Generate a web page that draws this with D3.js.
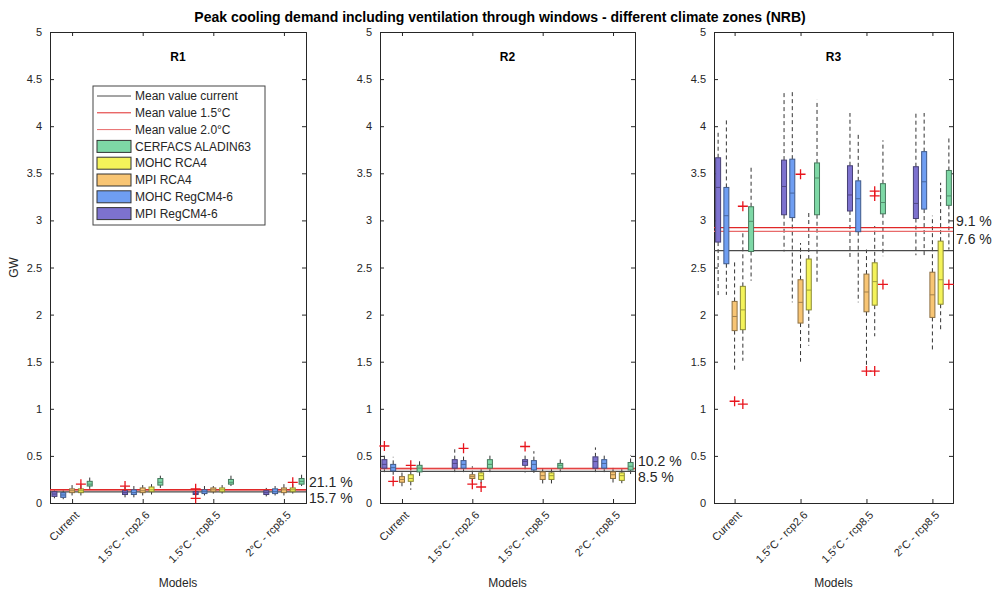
<!DOCTYPE html>
<html>
<head>
<meta charset="utf-8">
<script src="https://cdn.jsdelivr.net/npm/d3@7"></script>
<style>
  body { margin: 0; background: #fff; }
  svg { font-family: "Liberation Sans", Arial, sans-serif; }
</style>
</head>
<body>
<div id="chart"></div>
<script>
// regions / scenarios / models
const panels = ["R1", "R2", "R3"];
const scenarios = ["Current", "1.5°C - rcp2.6", "1.5°C - rcp8.5", "2°C - rcp8.5"];
const models = ["MPI RegCM4-6", "MOHC RegCM4-6", "MPI RCA4", "MOHC RCA4", "CERFACS ALADIN63"];

// box stats per scenario, per model: [whiskerLow, q1, median, q3, whiskerHigh]
const statsR1 = [
  [[0.05, 0.07, 0.095, 0.12, 0.14], [0.04, 0.06, 0.085, 0.11, 0.14], [0.08, 0.11, 0.13, 0.15, 0.19], [0.08, 0.11, 0.13, 0.15, 0.19], [0.15, 0.18, 0.2, 0.23, 0.27]],
  [[0.06, 0.09, 0.11, 0.13, 0.17], [0.06, 0.09, 0.11, 0.14, 0.18], [0.08, 0.11, 0.13, 0.16, 0.19], [0.09, 0.12, 0.14, 0.17, 0.2], [0.16, 0.19, 0.22, 0.26, 0.29]],
  [[0.07, 0.09, 0.1, 0.12, 0.13], [0.08, 0.1, 0.12, 0.14, 0.18], [0.1, 0.12, 0.14, 0.16, 0.18], [0.1, 0.12, 0.14, 0.16, 0.19], [0.18, 0.2, 0.22, 0.25, 0.29]],
  [[0.07, 0.09, 0.11, 0.13, 0.16], [0.08, 0.1, 0.12, 0.15, 0.18], [0.08, 0.11, 0.14, 0.16, 0.2], [0.1, 0.12, 0.14, 0.16, 0.2], [0.18, 0.2, 0.23, 0.26, 0.3]]
];
const statsR2 = [
  [[0.31, 0.37, 0.41, 0.46, 0.53], [0.3, 0.34, 0.375, 0.41, 0.49], [0.17, 0.22, 0.25, 0.28, 0.33], [0.14, 0.23, 0.26, 0.3, 0.35], [0.27, 0.33, 0.37, 0.4, 0.45]],
  [[0.31, 0.37, 0.42, 0.46, 0.57], [0.32, 0.37, 0.41, 0.45, 0.5], [0.21, 0.26, 0.28, 0.3, 0.39], [0.19, 0.25, 0.29, 0.32, 0.37], [0.3, 0.37, 0.41, 0.46, 0.51]],
  [[0.32, 0.4, 0.44, 0.46, 0.53], [0.32, 0.35, 0.41, 0.45, 0.55], [0.19, 0.25, 0.29, 0.33, 0.37], [0.19, 0.25, 0.29, 0.32, 0.37], [0.32, 0.37, 0.4, 0.42, 0.48]],
  [[0.31, 0.37, 0.44, 0.49, 0.59], [0.32, 0.37, 0.42, 0.46, 0.51], [0.19, 0.26, 0.3, 0.33, 0.39], [0.21, 0.24, 0.29, 0.32, 0.37], [0.3, 0.35, 0.39, 0.43, 0.51]]
];
const statsR3 = [
  [[2.18, 2.77, 3.35, 3.665, 3.93], [2.21, 2.54, 3.05, 3.35, 4.07], [1.41, 1.83, 1.98, 2.14, 2.57], [1.51, 1.84, 2.05, 2.3, 2.87], [2.36, 2.67, 2.99, 3.145, 3.59]],
  [[2.67, 3.06, 3.36, 3.64, 4.36], [2.13, 3.03, 3.29, 3.65, 4.38], [1.5, 1.91, 2.13, 2.37, 2.76], [1.67, 2.05, 2.26, 2.59, 3.1], [2.34, 3.06, 3.45, 3.61, 4.28]],
  [[2.59, 3.1, 3.27, 3.58, 4.14], [2.13, 2.88, 3.23, 3.42, 3.91], [1.45, 2.03, 2.24, 2.43, 2.69], [1.77, 2.1, 2.35, 2.55, 2.94], [2.62, 3.07, 3.19, 3.39, 3.85]],
  [[2.63, 3.02, 3.18, 3.57, 4.14], [2.62, 3.12, 3.41, 3.73, 4.14], [1.61, 1.97, 2.21, 2.45, 3.05], [1.83, 2.11, 2.37, 2.78, 3.4], [2.69, 3.16, 3.26, 3.53, 3.87]]
];
const stats = [statsR1, statsR2, statsR3];

// outliers: [scenario index, model index, value]
const outliersR1 = [[0, 3, 0.2], [1, 0, 0.18], [2, 0, 0.15], [2, 0, 0.05], [3, 3, 0.22]];
const outliersR2 = [[0, 0, 0.605], [0, 1, 0.23], [0, 3, 0.4], [1, 1, 0.58], [1, 2, 0.2], [1, 3, 0.17], [2, 0, 0.6]];
const outliersR3 = [[0, 2, 1.08], [0, 3, 3.15], [0, 3, 1.05], [1, 2, 3.49], [2, 2, 1.4], [2, 3, 1.4], [2, 3, 3.31], [2, 3, 3.26], [2, 4, 2.32], [3, 4, 2.32]];
const outliers = [outliersR1, outliersR2, outliersR3];

// mean lines
const meanCurrent = [0.118, 0.335, 2.68];
const mean15 = [0.143, 0.369, 2.924];
const mean20 = [0.137, 0.363, 2.884];
const pctLabels = [["21.1 %", "15.7 %"], ["10.2 %", "8.5 %"], ["9.1 %", "7.6 %"]];
const yTicks = [0, 0.5, 1, 1.5, 2, 2.5, 3, 3.5, 4, 4.5, 5];

const modelColors = ["#7d72cf", "#6f9ef2", "#f8c574", "#f4f35a", "#7ed8a6"];
const legendItems = [
  { label: "Mean value current", type: "line", color: "#4a4a4a" },
  { label: "Mean value 1.5°C", type: "line", color: "#e02828" },
  { label: "Mean value 2.0°C", type: "line", color: "#e86a6a" },
  { label: "CERFACS ALADIN63", type: "box", color: modelColors[4] },
  { label: "MOHC RCA4", type: "box", color: modelColors[3] },
  { label: "MPI RCA4", type: "box", color: modelColors[2] },
  { label: "MOHC RegCM4-6", type: "box", color: modelColors[1] },
  { label: "MPI RegCM4-6", type: "box", color: modelColors[0] }
];

const W = 998, H = 596;
const plotTop = 32, plotBottom = 503;
const lefts = [50, 380, 714], rights = [306, 635, 953];
const axisColor = "#262626";

const svg = d3.select("#chart").append("svg").attr("width", W).attr("height", H);

svg.append("text")
  .attr("x", 500).attr("y", 22)
  .attr("text-anchor", "middle")
  .attr("font-size", 14).attr("font-weight", "bold")
  .text("Peak cooling demand including ventilation through windows - different climate zones (NRB)");

svg.append("text")
  .attr("transform", `translate(18, ${(plotTop + plotBottom) / 2}) rotate(-90)`)
  .attr("text-anchor", "middle")
  .attr("font-size", 12).attr("fill", axisColor)
  .text("GW");

const yScale = d3.scaleLinear().domain([0, 5]).range([plotBottom, plotTop]);

panels.forEach((name, p) => {
  const x0 = lefts[p], x1 = rights[p];
  const xScale = d3.scaleLinear().domain([0.5, 29.5]).range([x0, x1]);
  const pos = (g, m) => xScale(g * 8 + m + 1);
  const g = svg.append("g");

  // y axis left + right (ticks inside)
  const yAxisL = d3.axisLeft(yScale).tickValues(yTicks).tickSize(-4).tickPadding(8)
    .tickFormat(d3.format("~g"));
  const yl = g.append("g").attr("transform", `translate(${x0},0)`).call(yAxisL);
  const yAxisR = d3.axisRight(yScale).tickValues(yTicks).tickSize(-4).tickFormat("");
  const yr = g.append("g").attr("transform", `translate(${x1},0)`).call(yAxisR);

  const tickPos = scenarios.map((s, i) => i * 8 + 3);
  const xAxisB = d3.axisBottom(xScale).tickValues(tickPos).tickSize(-4).tickFormat("");
  const xb = g.append("g").attr("transform", `translate(0,${plotBottom})`).call(xAxisB);
  const xAxisT = d3.axisTop(xScale).tickValues(tickPos).tickSize(-4).tickFormat("");
  const xt = g.append("g").attr("transform", `translate(0,${plotTop})`).call(xAxisT);

  [yl, yr, xb, xt].forEach(a => {
    a.select(".domain").attr("stroke", axisColor);
    a.selectAll(".tick line").attr("stroke", axisColor);
    a.selectAll("text").attr("fill", axisColor).attr("font-size", 11)
      .attr("font-family", "Liberation Sans, Arial, sans-serif");
  });

  // rotated scenario labels
  g.selectAll(".xlab").data(scenarios).join("text")
    .attr("class", "xlab")
    .attr("transform", (d, i) => `translate(${xScale(tickPos[i]) + 5},${plotBottom + 10}) rotate(-45)`)
    .attr("text-anchor", "end")
    .attr("dy", "0.35em")
    .attr("font-size", 11).attr("fill", axisColor)
    .text(d => d);

  g.append("text")
    .attr("x", (x0 + x1) / 2).attr("y", 587)
    .attr("text-anchor", "middle")
    .attr("font-size", 12).attr("fill", axisColor)
    .text("Models");

  g.append("text")
    .attr("x", (x0 + x1) / 2).attr("y", 61)
    .attr("text-anchor", "middle")
    .attr("font-size", 12).attr("font-weight", "bold")
    .text(name);

  // boxes
  const boxes = [];
  stats[p].forEach((grp, gi) => grp.forEach((s, mi) => boxes.push({ gi, mi, s })));
  const bw = 5;

  g.selectAll(".whisker").data(boxes).join("g").each(function (d) {
    const cx = pos(d.gi, d.mi);
    const sel = d3.select(this);
    sel.append("line")
      .attr("x1", cx).attr("x2", cx)
      .attr("y1", yScale(d.s[3])).attr("y2", yScale(d.s[4]))
      .attr("stroke", "#333").attr("stroke-dasharray", "4,3");
    sel.append("line")
      .attr("x1", cx).attr("x2", cx)
      .attr("y1", yScale(d.s[1])).attr("y2", yScale(d.s[0]))
      .attr("stroke", "#333").attr("stroke-dasharray", "4,3");
  });

  // mean lines
  const means = [
    { v: meanCurrent[p], c: "#4a4a4a" },
    { v: mean20[p], c: "#e86a6a" },
    { v: mean15[p], c: "#e02828" }
  ];
  g.selectAll(".mean").data(means).join("line")
    .attr("x1", x0).attr("x2", x1)
    .attr("y1", d => yScale(d.v)).attr("y2", d => yScale(d.v))
    .attr("stroke", d => d.c).attr("stroke-width", 1.2);

  g.selectAll(".box").data(boxes).join("rect")
    .attr("x", d => pos(d.gi, d.mi) - bw / 2)
    .attr("width", bw)
    .attr("y", d => yScale(d.s[3]))
    .attr("height", d => Math.max(1, yScale(d.s[1]) - yScale(d.s[3])))
    .attr("fill", d => modelColors[d.mi])
    .attr("stroke", d => d3.color(modelColors[d.mi]).darker(1.6))
    .attr("stroke-width", 1);

  g.selectAll(".median").data(boxes).join("line")
    .attr("x1", d => pos(d.gi, d.mi) - bw / 2)
    .attr("x2", d => pos(d.gi, d.mi) + bw / 2)
    .attr("y1", d => yScale(d.s[2])).attr("y2", d => yScale(d.s[2]))
    .attr("stroke", d => d3.color(modelColors[d.mi]).darker(1.2))
    .attr("stroke-width", 1);

  // outliers
  g.selectAll(".out").data(outliers[p]).join("path")
    .attr("d", d => {
      const cx = pos(d[0], d[1]), cy = yScale(d[2]);
      return `M${cx - 5},${cy}H${cx + 5}M${cx},${cy - 5}V${cy + 5}`;
    })
    .attr("stroke", "#e8141c").attr("stroke-width", 1.3);

  // percentage labels, stacked so they never collide
  const lowY = yScale(mean20[p]) + 8;
  const highY = Math.min(yScale(mean15[p]) - 6, lowY - 16);
  g.append("text")
    .attr("x", x1 + 3).attr("y", highY)
    .attr("dy", "0.35em").attr("font-size", 14).attr("fill", axisColor)
    .text(pctLabels[p][0]);
  g.append("text")
    .attr("x", x1 + 3).attr("y", lowY)
    .attr("dy", "0.35em").attr("font-size", 14).attr("fill", axisColor)
    .text(pctLabels[p][1]);
});

// legend in R1
const lg = svg.append("g");
lg.append("rect")
  .attr("x", 93).attr("y", 86).attr("width", 172).attr("height", 139)
  .attr("fill", "#fff").attr("stroke", "#444");
legendItems.forEach((d, i) => {
  const cy = 96 + i * 16.8;
  if (d.type === "line") {
    lg.append("line").attr("x1", 97).attr("x2", 131).attr("y1", cy).attr("y2", cy)
      .attr("stroke", d.color).attr("stroke-width", 1);
  } else {
    lg.append("rect").attr("x", 97).attr("y", cy - 6).attr("width", 34).attr("height", 12)
      .attr("fill", d.color).attr("stroke", "#333");
  }
  lg.append("text").attr("x", 135).attr("y", cy).attr("dy", "0.35em")
    .attr("font-size", 12).attr("fill", axisColor).text(d.label);
});
</script>
</body>
</html>
